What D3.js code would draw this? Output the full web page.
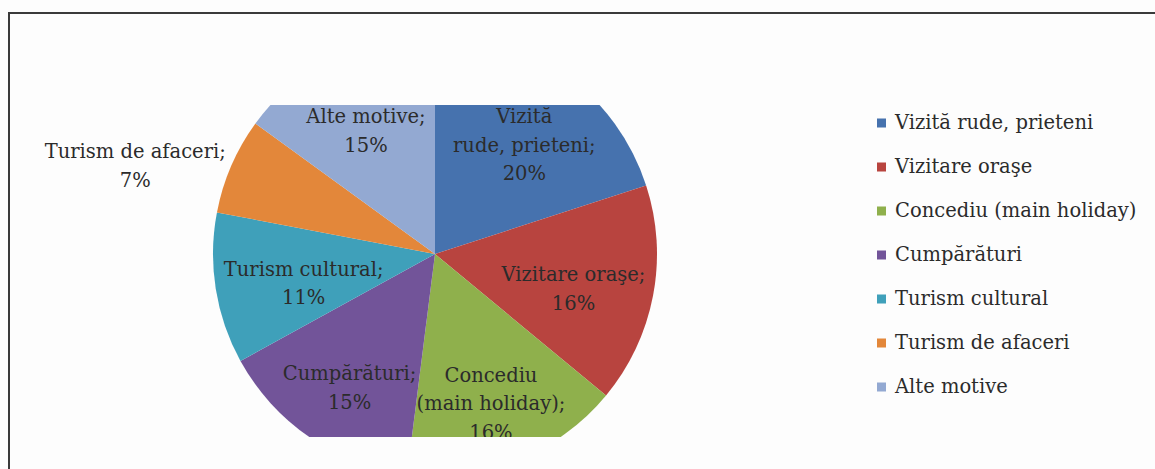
<!DOCTYPE html>
<html>
<head>
<meta charset="utf-8">
<script src="https://cdn.jsdelivr.net/npm/d3@7"></script>
<style>
  html, body { margin: 0; padding: 0; background: #fff; }
  svg text { font-family: "DejaVu Serif", serif; fill: #2b2b2b; }
</style>
</head>
<body>
<svg id="chart" width="1155" height="469"></svg>
<script>
// motive de călătorie, share in percent
const categories = ['Vizită rude, prieteni', 'Vizitare oraşe', 'Concediu (main holiday)', 'Cumpărături', 'Turism cultural', 'Turism de afaceri', 'Alte motive'];
const labelLines = [['Vizită', 'rude, prieteni;'], ['Vizitare oraşe;'], ['Concediu', '(main holiday);'], ['Cumpărături;'], ['Turism cultural;'], ['Turism de afaceri;'], ['Alte motive;']];
const values = [20, 16, 16, 15, 11, 7, 15];
const colors = ['#4672ae', '#b8443f', '#8fb04c', '#725499', '#3fa0ba', '#e3873a', '#93a9d2'];

const W = 1155, H = 469;
const cx = 435, cy = 254, R = 222;
const clipTop = 105, clipBottom = 437;
const fontSize = 19.5, lineH = 28.5;

const svg = d3.select('#chart');

// frame (only top and left edges are visible in the crop)
svg.append('rect').attr('width', W).attr('height', H).attr('fill', '#fdfdfd');
svg.append('path')
  .attr('d', `M9,${H} V13 H${W}`)
  .attr('fill', 'none')
  .attr('stroke', '#3a3a3a')
  .attr('stroke-width', 2);

// plot area cuts the pie at top and bottom
svg.append('clipPath').attr('id', 'plotclip')
  .append('rect').attr('x', 0).attr('y', clipTop).attr('width', W).attr('height', clipBottom - clipTop);

const pie = d3.pie().sort(null).value(d => d);
const arcs = pie(values);
const arc = d3.arc().innerRadius(0).outerRadius(R);
const outerArc = d3.arc().innerRadius(R + 6).outerRadius(R + 6);

const g = svg.append('g').attr('clip-path', 'url(#plotclip)');
const pg = g.append('g').attr('transform', `translate(${cx},${cy})`);

pg.selectAll('path.slice')
  .data(arcs)
  .enter()
  .append('path')
  .attr('class', 'slice')
  .attr('d', arc)
  .attr('fill', (d, i) => colors[i]);

// data labels: small slices go outside, the rest sit inside the pie
pg.selectAll('text.lbl')
  .data(arcs)
  .enter()
  .append('text')
  .attr('class', 'lbl')
  .attr('text-anchor', 'middle')
  .style('font-size', fontSize + 'px')
  .each(function(d, i) {
    const t = d3.select(this);
    const lines = labelLines[i].concat([d.data + '%']);
    const spans = lines.map(s => t.append('tspan').text(s));
    const widths = spans.map(s => s.node().getComputedTextLength());
    const wmax = d3.max(widths);
    const mid = (d.startAngle + d.endAngle) / 2;
    const half = (lines.length - 1) * lineH / 2;
    let x, y;

    if (d.data < 10) {
      const [ox, oy] = outerArc.centroid(d);
      x = Math.sin(mid) < 0 ? ox - wmax / 2 : ox + wmax / 2;
      y = oy + 2;
    } else {
      // start at centroid, pull inward until each line fits in the circle
      let r = 152;
      const fits = (rr) => {
        const px = Math.sin(mid) * rr, py = -Math.cos(mid) * rr + 8;
        return widths.every((w, k) => {
          const ly = py - half + k * lineH;
          return Math.hypot(px - w / 2, ly) <= R - 10 && Math.hypot(px + w / 2, ly) <= R - 10;
        });
      };
      while (r > 60 && !fits(r)) r -= 1;
      x = Math.sin(mid) * r;
      y = -Math.cos(mid) * r + 8;
      // keep the first line below the cut edge of the plot area
      const firstBase = cy + y - half + fontSize * 0.36;
      if (firstBase < clipTop + 18) y += clipTop + 18 - firstBase;
    }
    spans.forEach((s, k) => {
      s.attr('x', x).attr('y', y - half + k * lineH + fontSize * 0.36);
    });
  });

// legend
const legend = svg.append('g').attr('transform', 'translate(877,123)');
const rows = legend.selectAll('g.row')
  .data(categories)
  .enter()
  .append('g')
  .attr('class', 'row')
  .attr('transform', (d, i) => `translate(0,${i * 44})`);
rows.append('rect')
  .attr('x', 0).attr('y', -4.5)
  .attr('width', 9).attr('height', 9)
  .attr('fill', (d, i) => colors[i]);
rows.append('text')
  .attr('x', 18)
  .attr('y', 6)
  .style('font-size', fontSize + 'px')
  .text(d => d);
</script>
</body>
</html>
